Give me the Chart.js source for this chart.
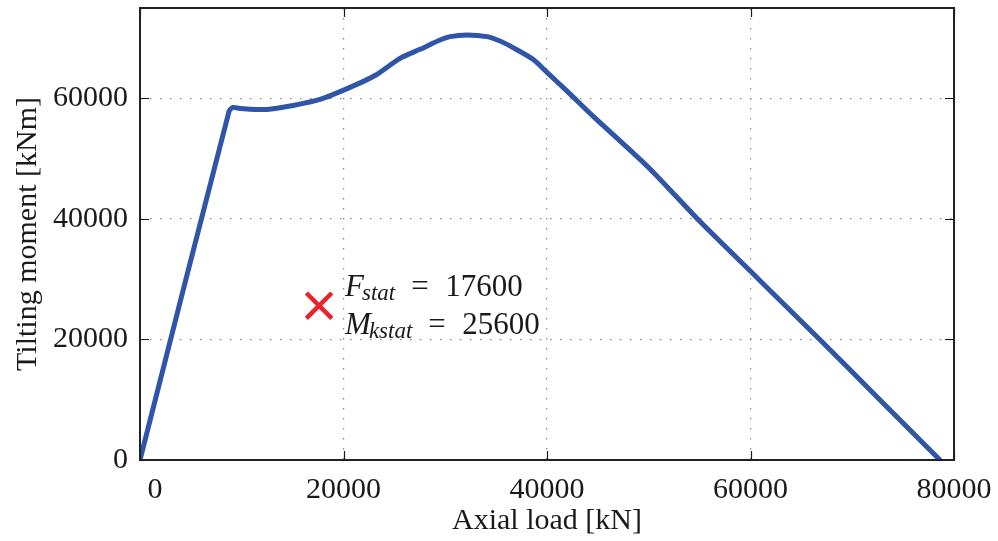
<!DOCTYPE html>
<html>
<head>
<meta charset="utf-8">
<script src="https://cdn.jsdelivr.net/npm/chart.js@4.4.1/dist/chart.umd.min.js"></script>
<style>
  html, body { margin: 0; padding: 0; background: #ffffff; }
  #wrap { width: 998px; height: 541px; }
</style>
</head>
<body>
<div id="wrap"><canvas id="c" width="998" height="541"></canvas></div>
<script>
// ---- data ----
const axialLoad = [0, 8750, 9140, 9830, 12480, 15040, 17690, 20640, 23100, 25550, 27520, 29480, 30470, 32140, 34100, 35380, 36660, 38620, 40000, 41970, 44520, 50000, 55040, 60940, 66830, 72730, 78620];
const tiltingMoment = [0, 57840, 58500, 58340, 58170, 58830, 59830, 61830, 63800, 66650, 68140, 69690, 70250, 70520, 70250, 69520, 68420, 66480, 64320, 61210, 57060, 48500, 39560, 29750, 19940, 9970, 0];
const xTicks = [0, 20000, 40000, 60000, 80000];
const yTicks = [0, 20000, 40000, 60000];
const statLoad = [17600];
const statMoment = [25600];
const xTitle = 'Axial load [kN]';
const yTitle = 'Tilting moment [kNm]';

const FONT = '"Liberation Serif", "DejaVu Serif", serif';
const TXT = '#1a1a1a';

const frame = {
  id: 'frame',
  afterDatasetsDraw(chart) {
    const {ctx, chartArea: a, scales: {x, y}} = chart;
    ctx.save();
    ctx.strokeStyle = '#1a1a1a';
    ctx.lineWidth = 1.2;
    const L = 9;
    xTicks.forEach(v => {
      const px = Math.round(x.getPixelForValue(v)) + 0.5;
      ctx.beginPath();
      ctx.moveTo(px, a.bottom); ctx.lineTo(px, a.bottom - L);
      ctx.moveTo(px, a.top); ctx.lineTo(px, a.top + L);
      ctx.stroke();
    });
    yTicks.forEach(v => {
      const py = Math.round(y.getPixelForValue(v)) + 0.5;
      ctx.beginPath();
      ctx.moveTo(a.left, py); ctx.lineTo(a.left + L, py);
      ctx.moveTo(a.right, py); ctx.lineTo(a.right - L, py);
      ctx.stroke();
    });
    ctx.lineWidth = 2;
    ctx.strokeStyle = '#222';
    ctx.strokeRect(a.left, a.top, a.right - a.left, a.bottom - a.top);
    ctx.restore();
  },
  afterDraw(chart) {
    const {ctx, scales: {x, y}} = chart;
    ctx.save();
    ctx.fillStyle = TXT;
    ctx.textBaseline = 'alphabetic';
    const px = x.getPixelForValue(statLoad[0]);
    const py = y.getPixelForValue(statMoment[0]);
    const x0 = px + 26;
    const lines = [
      {sym: 'F', sub: 'stat', val: String(statLoad[0]), base: py - 10},
      {sym: 'M', sub: 'kstat', val: String(statMoment[0]), base: py + 28}
    ];
    lines.forEach(l => {
      let cx = x0;
      ctx.font = 'italic 31px ' + FONT;
      ctx.fillText(l.sym, cx, l.base);
      cx += ctx.measureText(l.sym).width - 2;
      ctx.font = 'italic 23px ' + FONT;
      ctx.fillText(l.sub, cx, l.base + 4);
      cx += ctx.measureText(l.sub).width + 16;
      ctx.font = '31px ' + FONT;
      ctx.fillText('=', cx, l.base);
      cx += 34;
      ctx.fillText(l.val, cx, l.base);
    });
    ctx.restore();
  }
};

function fixPad(s) {
  s.paddingTop = 0; s.paddingBottom = 0; s.paddingLeft = 0; s.paddingRight = 0;
}

new Chart(document.getElementById('c'), {
  type: 'scatter',
  data: {
    datasets: [
      {
        data: axialLoad.map((v, i) => ({x: v, y: tiltingMoment[i]})),
        showLine: true,
        borderColor: '#2f55a8',
        borderWidth: 5,
        pointRadius: 0,
        tension: 0.25,
        borderCapStyle: 'round',
        borderJoinStyle: 'round',
        order: 2
      },
      {
        data: statLoad.map((v, i) => ({x: v, y: statMoment[i]})),
        showLine: false,
        pointStyle: 'crossRot',
        pointRadius: 18,
        borderWidth: 4.5,
        borderColor: '#e8232a',
        backgroundColor: '#e8232a',
        order: 1
      }
    ]
  },
  options: {
    responsive: false,
    animation: false,
    devicePixelRatio: 1,
    layout: { padding: { left: 0, right: 44, top: 8, bottom: 0 }, autoPadding: false },
    plugins: { legend: { display: false }, tooltip: { enabled: false } },
    scales: {
      x: {
        type: 'linear',
        min: 0, max: 80000,
        afterBuildTicks: s => { s.ticks = xTicks.map(v => ({value: v})); },
        afterFit: s => { s.height = 81; fixPad(s); },
        grid: { color: '#8a8a8a', lineWidth: 1.2, drawTicks: false },
        border: { display: false, dash: [1.5, 8.5] },
        ticks: {
          padding: 12,
          color: TXT,
          font: { family: FONT, size: 30 },
          maxRotation: 0,
          autoSkip: false,
          callback: v => (v === 0 ? '\u2007\u20070' : String(v))
        },
        title: { display: true, text: xTitle, color: TXT, font: { family: FONT, size: 30 }, padding: { top: 0, bottom: 2 } }
      },
      y: {
        type: 'linear',
        min: 0, max: 75000,
        afterBuildTicks: s => { s.ticks = yTicks.map(v => ({value: v})); },
        afterFit: s => { s.width = 140; fixPad(s); },
        grid: { color: '#8a8a8a', lineWidth: 1.2, drawTicks: false },
        border: { display: false, dash: [1.5, 8.5] },
        ticks: {
          padding: 12,
          color: TXT,
          font: { family: FONT, size: 30 },
          autoSkip: false,
          callback: v => String(v)
        },
        title: { display: true, text: yTitle, color: TXT, font: { family: FONT, size: 30 }, padding: { top: 10, bottom: 0 } }
      }
    }
  },
  plugins: [frame]
});
</script>
</body>
</html>
